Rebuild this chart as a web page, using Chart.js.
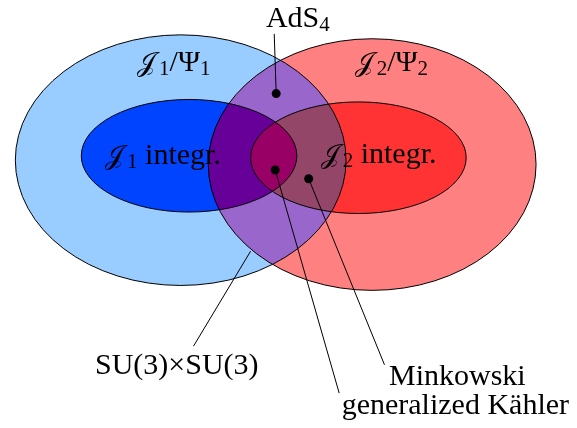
<!DOCTYPE html>
<html lang="en">
<head>
  <meta charset="UTF-8">
  <title>Venn diagram</title>
  <script src="https://cdn.jsdelivr.net/npm/chart.js"></script>
  <style>
    html, body { margin: 0; padding: 0; background: #fff; }
    canvas { display: block; }
  </style>
</head>
<body>
  <canvas id="venn" width="577" height="428"></canvas>

  <script>
    // sets: J1/Psi1, J2/Psi2 (outer) and the two integrable ones (inner)
    const setNames = ['J1/Psi1', 'J2/Psi2', 'J1 integr.', 'J2 integr.'];
    const setCx = [179, 373.5, 187.5, 359.5];
    const setCy = [159, 163.5, 154.5, 156.5];
    const setRx = [168, 166.5, 109.5, 109.5];
    const setRy = [128, 128.5, 57.5, 57];

    // marked solutions
    const pointNames = ['AdS4', 'generalized Kähler', 'Minkowski'];
    const pointX = [276, 275, 309];
    const pointY = [91, 169, 178];

    // leader lines, start -> end
    const leaderFromX = [276, 250, 275, 309];
    const leaderFromY = [91, 252, 169, 178];
    const leaderToX = [274, 192, 340, 386];
    const leaderToY = [30, 349, 397, 368];

    // texts ("_" marks a one character subscript)
    const labelText = ['AdS_4', '𝒥_1/Ψ_1', '𝒥_2/Ψ_2', '𝒥_1 integr.', '𝒥_2 integr.', 'SU(3)×SU(3)', 'Minkowski', 'generalized Kähler'];
    const labelX = [298, 172, 393, 161, 380, 175, 460, 458];
    const labelY = [23, 68, 68, 163, 162, 377, 389, 418];

    const setColors = ['#99ccff', '#ff8080', '#0044ff', '#ff3333'];
    const lensColor = '#9966cc', lensBlue = '#660099', lensRed = '#944669', lensBoth = '#990066';
    const FONT = '"Liberation Serif", "DejaVu Serif", serif';
    const SIZE = 30;

    const setsPlugin = {
      id: 'sets',
      beforeDatasetsDraw(chart) {
        const ctx = chart.ctx, xs = chart.scales.x, ys = chart.scales.y;
        const path = i => {
          const cx = xs.getPixelForValue(setCx[i]);
          const cy = ys.getPixelForValue(setCy[i]);
          const rx = Math.abs(xs.getPixelForValue(setCx[i] + setRx[i]) - cx);
          const ry = Math.abs(ys.getPixelForValue(setCy[i] + setRy[i]) - cy);
          ctx.beginPath();
          ctx.ellipse(cx, cy, rx, ry, 0, 0, Math.PI * 2);
        };
        const fill = (i, c) => { path(i); ctx.fillStyle = c; ctx.fill(); };

        ctx.save();
        for (let i = 0; i < 4; i++) fill(i, setColors[i]);

        // overlap of the two outer sets
        ctx.save();
        path(0); ctx.clip();
        path(1); ctx.clip();
        fill(1, lensColor);
        fill(2, lensBlue);
        fill(3, lensRed);
        path(2); ctx.clip();
        fill(3, lensBoth);
        ctx.restore();

        ctx.lineWidth = 1;
        ctx.strokeStyle = '#000';
        for (let i = 0; i < 4; i++) { path(i); ctx.stroke(); }
        ctx.restore();
      }
    };

    const labelsPlugin = {
      id: 'labels',
      afterDatasetsDraw(chart) {
        const ctx = chart.ctx, xs = chart.scales.x, ys = chart.scales.y;
        ctx.save();
        ctx.fillStyle = '#000';
        ctx.textBaseline = 'alphabetic';
        ctx.textAlign = 'left';
        labelText.forEach((txt, k) => {
          // split into runs: normal text, subscripts, script letters
          const runs = [];
          for (let j = 0; j < txt.length; j++) {
            if (txt[j] === '_') { runs.push({ t: txt[j + 1], kind: 'sub' }); j++; continue; }
            if (txt.codePointAt(j) > 0xffff) { runs.push({ t: txt.substr(j, 2), kind: 'cal' }); j++; continue; }
            const last = runs[runs.length - 1];
            if (last && last.kind === 'txt') last.t += txt[j]; else runs.push({ t: txt[j], kind: 'txt' });
          }
          const fontOf = r => (r.kind === 'sub' ? SIZE * 0.7 : r.kind === 'cal' ? SIZE * 0.9 : SIZE) + 'px ' + FONT;
          let w = 0;
          runs.forEach(r => {
            ctx.font = fontOf(r);
            r.w = ctx.measureText(r.t).width + (r.kind === 'cal' ? 3 : 0);
            w += r.w;
          });
          let x = xs.getPixelForValue(labelX[k]) - w / 2;
          const y = ys.getPixelForValue(labelY[k]);
          runs.forEach(r => {
            ctx.font = fontOf(r);
            ctx.fillText(r.t, x, r.kind === 'sub' ? y + 4 : y);
            x += r.w;
          });
        });
        ctx.restore();
      }
    };

    const leaderSets = leaderFromX.map((x, i) => ({
      type: 'line',
      data: [{ x: x, y: leaderFromY[i] }, { x: leaderToX[i], y: leaderToY[i] }],
      borderColor: '#000',
      borderWidth: 1,
      pointRadius: 0,
      order: 2
    }));

    new Chart(document.getElementById('venn'), {
      type: 'scatter',
      data: {
        datasets: [
          {
            label: 'solutions',
            data: pointX.map((x, i) => ({ x: x, y: pointY[i] })),
            backgroundColor: '#000',
            borderWidth: 0,
            pointRadius: 4.5,
            order: 1
          },
          ...leaderSets
        ]
      },
      options: {
        responsive: false,
        animation: false,
        events: [],
        layout: { padding: 0 },
        plugins: { legend: { display: false }, tooltip: { enabled: false } },
        scales: {
          x: { type: 'linear', min: 0, max: 577, display: false },
          y: { type: 'linear', min: 0, max: 428, reverse: true, display: false }
        }
      },
      plugins: [setsPlugin, labelsPlugin]
    });
  </script>
</body>
</html>
